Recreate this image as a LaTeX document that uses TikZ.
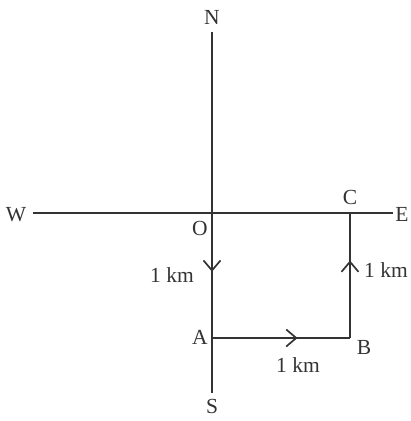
\documentclass[tikz,border=0pt]{standalone}
\usepackage{fontspec}
\setmainfont{Liberation Serif}
\usetikzlibrary{arrows.meta,decorations.markings}
\begin{document}
\begin{tikzpicture}[x=1pt,y=-1pt,
  axis/.style={draw=black!80,line width=1.7pt},
  path/.style={draw=black!80,line width=1.7pt},
  lbl/.style={font=\fontsize{21.5}{24}\selectfont,text=black!80,inner sep=0pt},
  midarrow/.style={postaction={decorate},decoration={markings,
    mark=at position #1 with {\arrow{Straight Barb[length=10pt,width=17pt,line width=1.7pt]}}}}]
\useasboundingbox (0,0) rectangle (411,421);
\coordinate (Ntop) at (212,32);
\coordinate (Sbot) at (212,393);
\coordinate (Wl) at (33,213);
\coordinate (Er) at (393,213);
\coordinate (O) at (212,213);
\coordinate (A) at (212,338);
\coordinate (B) at (350,338);
\coordinate (C) at (350,213);
\node[lbl] (N) at (212,17) {N};
\node[lbl] (S) at (212,406) {S};
\node[lbl] (W) at (16,215) {W};
\node[lbl] (E) at (402,214) {E};
\node[lbl] (Ol) at (200,228) {O};
\node[lbl] (Cl) at (350,197) {C};
\node[lbl] (Al) at (200,337) {A};
\node[lbl] (Bl) at (364,347) {B};
\node[lbl] (k1) at (172,275) {1 km};
\node[lbl,anchor=west] (k2) at (364,270) {1 km};
\node[lbl] (k3) at (298,365) {1 km};
\draw[axis] (Ntop) -- (Sbot);
\draw[axis] (Wl) -- (Er);
\draw[path,midarrow=0.47] (O) -- (A);
\draw[path,midarrow=0.62] (A) -- (B);
\draw[path,midarrow=0.62] (B) -- (C);
\end{tikzpicture}
\end{document}
